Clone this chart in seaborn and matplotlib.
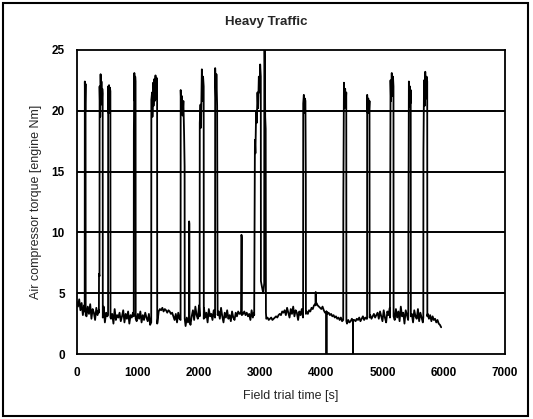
import numpy as np
import pandas as pd
import matplotlib
matplotlib.use("Agg")
import matplotlib.pyplot as plt
import seaborn as sns
from matplotlib.patches import Rectangle

# ---------------- data ----------------
title = "Heavy Traffic"
x_label = "Field trial time [s]"
y_label = "Air compressor torque [engine Nm]"
x_ticks = [0, 1000, 2000, 3000, 4000, 5000, 6000, 7000]
y_ticks = [0, 5, 10, 15, 20, 25]

# baseline torque sampled every 20 s from 0 s to 5960 s
baseline_step = 20
baseline = [
    4.3, 3.9, 4.5, 3.6, 4.2,
    3.2, 4.0, 3.5, 3.1, 3.9, 3.3, 4.1, 2.9, 3.7, 3.4, 2.8, 3.8, 3.2, 3.6, 2.7,
    3.5, 3.0, 3.9, 2.6, 3.4, 3.1, 2.4, 3.6, 2.9, 3.3, 2.5, 3.7, 2.8, 3.2, 3.0,
    3.4, 2.7, 3.1, 3.6, 2.6, 3.3, 2.9, 3.5, 2.5, 3.2, 3.0, 3.4, 2.8, 3.6, 2.7,
    3.3, 2.9, 3.5, 2.6, 3.2, 2.8, 3.4, 3.0, 2.7, 3.3, 2.4, 2.2, 3.1, 2.5, 2.3,
    3.2, 2.6, 3.5, 3.7, 3.6, 3.8, 3.5, 3.7, 3.6, 3.4, 3.6, 3.5, 3.3, 3.4, 3.1,
    2.8, 3.3, 2.6, 3.4, 2.9, 2.5, 3.2, 2.7, 3.4, 2.3, 3.0, 2.6, 3.3, 2.4, 3.1,
    3.6, 2.8, 3.9, 3.2, 2.9, 4.0, 3.1, 3.5, 2.7, 3.8, 3.0, 3.4, 2.6, 3.7, 3.1,
    3.3, 2.8, 3.6, 3.0, 3.4, 2.7, 3.5, 2.9, 3.8, 3.1, 2.6, 3.4, 3.0, 3.6, 2.9,
    3.2, 2.7, 3.5, 3.0, 2.8, 3.4, 3.1, 3.5, 3.3, 3.4, 3.2, 3.3, 3.5, 3.2, 3.4,
    3.1, 3.3, 2.8, 3.6, 3.0, 3.4, 3.2, 2.9, 3.5, 3.1, 3.3, 3.0, 3.2, 3.1, 3.0,
    2.9, 3.0, 2.8, 2.9, 3.0, 2.8, 2.9, 3.0, 3.1, 3.0, 3.2, 3.3, 3.2, 3.5, 3.4,
    3.6, 3.2, 3.8, 3.4, 3.0, 3.7, 3.3, 3.9, 3.1, 3.6, 3.4, 2.8, 3.5, 3.2, 3.7,
    3.0, 3.4, 3.1, 3.5, 3.3, 3.6, 3.5, 3.8, 3.7, 4.0, 4.1, 4.2, 4.0, 3.9, 3.8,
    3.7, 3.9, 3.6, 3.4, 3.5, 3.3, 3.4, 3.2, 3.3, 3.1, 3.2, 3.0, 3.1, 2.9, 3.0,
    2.8, 3.0, 2.7, 2.9, 2.6, 2.7, 2.5, 2.8, 2.6, 2.7, 2.9, 2.6, 2.8, 2.7, 2.9,
    2.8, 3.0, 2.7, 2.9, 3.1, 2.8, 3.0, 2.9, 3.1, 3.0, 3.2, 2.9, 3.1, 3.3, 3.0,
    3.2, 3.4, 2.9, 3.5, 3.1, 2.7, 3.6, 3.0, 2.6, 3.5, 3.2, 3.8, 2.9, 3.4, 3.1,
    2.8, 3.7, 3.0, 3.5, 2.7, 3.9, 3.1, 3.4, 2.5, 3.6, 3.2, 2.8, 3.8, 3.0, 3.3,
    2.6, 3.6, 3.1, 2.9, 3.7, 2.7, 3.4, 3.0, 2.6, 3.5, 3.1, 2.8, 3.3, 2.9, 3.2,
    2.7, 3.1, 2.8, 2.9, 2.6, 2.8, 2.5, 2.4, 2.2,
]

# compressor-on events (time [s], torque [Nm])
spike_times = [
    [130, 132, 138, 144, 146],
    [362, 364, 372, 374, 384, 390, 398, 404, 412, 418, 424, 426],
    [512, 514, 522, 528, 536, 542, 550, 552],
    [932, 934, 942, 948, 956, 962, 964],
    [1218, 1220, 1232, 1238, 1250, 1256, 1268, 1276, 1288, 1296, 1306, 1314, 1316],
    [1698, 1700, 1712, 1720, 1732, 1744, 1756, 1764, 1766],
    [1836, 1838, 1842, 1844],
    [2010, 2012, 2024, 2032, 2046, 2054, 2066, 2076, 2078],
    [2262, 2264, 2276, 2284, 2296, 2302, 2304],
    [2688, 2690, 2694, 2698, 2700],
    [2902, 2904, 2914, 2922, 2934, 2944, 2956, 2966, 2978, 2990, 3000, 3010, 3012,
     3030, 3050, 3066, 3068, 3076, 3082, 3090, 3094],
    [3702, 3704, 3714, 3722, 3732, 3740, 3746, 3748],
    [3906, 3908, 3910],
    [4082, 4084, 4086],
    [4358, 4360, 4370, 4378, 4390, 4398, 4408, 4410],
    [4516, 4518, 4520],
    [4748, 4750, 4760, 4768, 4780, 4788, 4790],
    [5122, 5124, 5132, 5140, 5152, 5162, 5172, 5180, 5182],
    [5422, 5424, 5432, 5440, 5448, 5456, 5462, 5464],
    [5668, 5670, 5680, 5690, 5700, 5712, 5722, 5732, 5734],
]
spike_values = [
    [3.5, 22.4, 20.0, 22.2, 3.2],
    [3.4, 6.6, 6.4, 22.0, 19.5, 23.0, 21.0, 22.4, 20.5, 21.8, 21.4, 3.0],
    [3.2, 22.0, 19.8, 22.1, 20.2, 21.9, 21.6, 3.0],
    [3.1, 18.3, 23.1, 20.8, 22.8, 22.4, 2.9],
    [2.6, 20.9, 21.5, 19.5, 22.3, 20.4, 22.6, 20.8, 22.9, 21.0, 22.7, 22.5, 2.5],
    [2.8, 21.7, 19.8, 21.2, 19.6, 20.8, 18.0, 15.4, 2.9],
    [3.0, 10.9, 10.7, 2.8],
    [3.1, 19.0, 20.5, 18.6, 23.4, 20.8, 22.8, 22.0, 2.9],
    [3.0, 23.5, 21.0, 23.0, 20.4, 8.0, 3.2],
    [3.3, 6.4, 9.8, 9.6, 3.2],
    [3.2, 6.0, 17.6, 16.5, 20.0, 19.0, 21.5, 20.2, 22.8, 21.5, 23.8, 22.8, 6.0,
     5.5, 5.0, 5.8, 26.0, 25.0, 19.5, 18.5, 3.4],
    [3.1, 20.6, 21.3, 19.8, 21.0, 20.8, 14.2, 3.3],
    [4.0, 5.1, 4.1],
    [3.4, 0.0, 3.5],
    [2.8, 12.5, 22.3, 20.2, 21.8, 20.5, 21.5, 2.7],
    [2.7, 0.0, 2.8],
    [2.9, 21.3, 19.8, 21.0, 19.9, 20.8, 3.0],
    [3.0, 6.1, 22.5, 20.8, 23.1, 21.2, 22.8, 22.0, 3.1],
    [3.0, 9.2, 22.4, 20.3, 22.0, 20.6, 21.7, 3.1],
    [3.0, 16.6, 22.5, 20.4, 23.2, 21.0, 22.8, 22.4, 3.1],
]

# ---------------- build the series table ----------------
base_t = np.arange(len(baseline)) * baseline_step
base_df = pd.DataFrame({"time": base_t, "torque": baseline})
keep = np.ones(len(base_df), dtype=bool)
for ts in spike_times:
    keep &= ~((base_df["time"] >= ts[0]) & (base_df["time"] <= ts[-1]))
frames = [base_df[keep]]
for ts, vs in zip(spike_times, spike_values):
    frames.append(pd.DataFrame({"time": ts, "torque": vs}))
df = pd.concat(frames).sort_values("time", kind="mergesort").reset_index(drop=True)

# ---------------- plot ----------------
sns.set_style("white")
plt.rcParams["font.family"] = ["Liberation Sans", "DejaVu Sans"]

fig = plt.figure(figsize=(5.33, 4.19), dpi=100)
ax = fig.add_axes([0.144, 0.155, 0.803, 0.726])

sns.lineplot(data=df, x="time", y="torque", ax=ax, color="black",
             linewidth=1.3, estimator=None, sort=False)

ax.set_xlim(0, 7000)
ax.set_ylim(0, 25)
ax.set_xticks(x_ticks)
ax.set_yticks(y_ticks)
ax.set_xticklabels([str(v) for v in x_ticks], fontsize=8.5, fontweight="bold")
ax.set_yticklabels([str(v) for v in y_ticks], fontsize=8.5, fontweight="bold")
ax.tick_params(axis="x", direction="out", length=3, width=1, pad=6, colors="black")
ax.tick_params(axis="y", direction="inout", length=5, width=1, pad=6, colors="black")

for yv in y_ticks[1:-1]:
    ax.axhline(yv, color="black", linewidth=1.4, zorder=0.5)

for s in ax.spines.values():
    s.set_color("black")
    s.set_linewidth(1.3)

ax.set_xlabel(x_label, fontsize=9, labelpad=8)
ax.set_ylabel(y_label, fontsize=9, labelpad=7)
fig.suptitle(title, fontsize=9.5, fontweight="bold", y=0.962, x=0.5)

fig.patches.append(Rectangle((0.006, 0.006), 0.985, 0.986, transform=fig.transFigure,
                             fill=False, edgecolor="black", linewidth=1.5))

fig.savefig("out.png", dpi=100)
